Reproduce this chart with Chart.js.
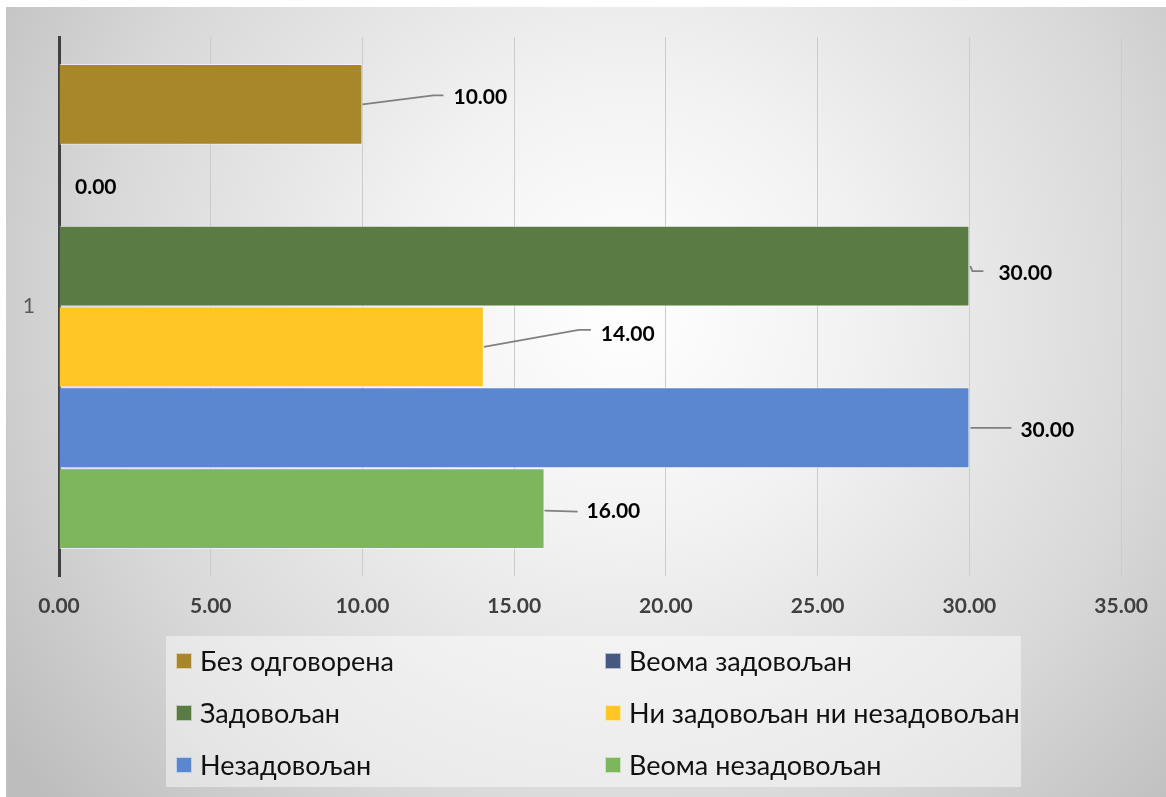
<!DOCTYPE html>
<html>

<head>
	<meta charset="utf-8">
	<title>Задовољство</title>
	<style>
		body {
			margin: 0;
			background: #fff;
		}

		.chart-wrap {
			position: absolute;
			left: 6px;
			top: 7px;
		}
	</style>
</head>

<body>
	<div class="chart-wrap">
		<canvas id="chart" width="1160" height="790"></canvas>
	</div>

	<script src="https://cdn.jsdelivr.net/npm/chart.js@4/dist/chart.umd.min.js"></script>
	<script>
		'use strict'

		// data
		const categories = ['1']
		const seriesNames = [
			'Без одговорена',
			'Веома задовољан',
			'Задовољан',
			'Ни задовољан ни незадовољан',
			'Незадовољан',
			'Веома незадовољан'
		]
		const seriesValues = [10, 0, 30, 14, 30, 16]
		const seriesColors = ['#a8862a', '#46587f', '#5a7c44', '#ffc626', '#5b87d0', '#7db65c']
		const xMin = 0
		const xMax = 35
		const xStep = 5

		// label leader lines: [line points relative to bar end], text dx, text dy
		const labelStyle = [
			{ line: [[0, 0], [71, -9], [81, -9]], dx: 91, dy: -7 },
			{ line: null, dx: 16, dy: 2 },
			{ line: [[1, 0], [3, 5], [14, 5]], dx: 29, dy: 7 },
			{ line: [[0, 0], [95, -17], [107, -17]], dx: 117, dy: -13 },
			{ line: [[1, 0], [42, 0]], dx: 51, dy: 2 },
			{ line: [[0, 2], [33, 3]], dx: 42, dy: 3 }
		]

		const FONT = "Lato, 'Noto Sans', sans-serif"

		const backgroundPlugin = {
			id: 'bgGradient',
			beforeDraw(chart) {
				const { ctx, width, height } = chart
				const g = ctx.createRadialGradient(620, 300, 0, 620, 300, 760)
				g.addColorStop(0, '#ffffff')
				g.addColorStop(0.3, '#f2f2f2')
				g.addColorStop(0.7, '#d8d8d8')
				g.addColorStop(1, '#bdbdbd')
				ctx.save()
				ctx.fillStyle = g
				ctx.fillRect(0, 0, width, height)
				ctx.restore()
			}
		}

		const valueLabelPlugin = {
			id: 'valueLabels',
			afterDatasetsDraw(chart) {
				const ctx = chart.ctx
				ctx.save()
				chart.data.datasets.forEach((ds, i) => {
					const bar = chart.getDatasetMeta(i).data[0]
					if (!bar) return
					const st = labelStyle[i]
					if (st.line) {
						ctx.beginPath()
						st.line.forEach(([dx, dy], k) => {
							if (k === 0) ctx.moveTo(bar.x + dx, bar.y + dy)
							else ctx.lineTo(bar.x + dx, bar.y + dy)
						})
						ctx.strokeStyle = '#808080'
						ctx.lineWidth = 1.8
						ctx.stroke()
					}
					ctx.fillStyle = '#000'
					ctx.font = 'bold 21px ' + FONT
					ctx.textAlign = 'left'
					ctx.textBaseline = 'middle'
					ctx.fillText(ds.data[0].toFixed(2), bar.x + st.dx, bar.y + st.dy)
				})
				ctx.restore()
			}
		}

		const gridLegendPlugin = {
			id: 'gridLegend',
			afterDraw(chart) {
				const ctx = chart.ctx
				const box = { x: 160, y: 629, w: 855, h: 151 }
				const cols = [170, 599]
				const rows = [654, 706, 758]
				ctx.save()
				ctx.fillStyle = 'rgba(255, 255, 255, 0.45)'
				ctx.fillRect(box.x, box.y, box.w, box.h)
				chart.data.datasets.forEach((ds, i) => {
					const x = cols[i % 2]
					const y = rows[Math.floor(i / 2)]
					ctx.fillStyle = ds.backgroundColor
					ctx.fillRect(x, y - 8, 16, 16)
					ctx.strokeStyle = 'rgba(255, 255, 255, 0.6)'
					ctx.lineWidth = 1
					ctx.strokeRect(x + 0.5, y - 7.5, 15, 15)
					ctx.fillStyle = '#111'
					ctx.font = '27px ' + FONT
					ctx.textAlign = 'left'
					ctx.textBaseline = 'middle'
					ctx.fillText(ds.label, x + 24, y + 1)
				})
				ctx.restore()
			}
		}

		const datasets = seriesNames.map((name, i) => ({
			label: name,
			data: [seriesValues[i]],
			backgroundColor: seriesColors[i],
			borderColor: 'rgba(255, 255, 255, 0.55)',
			borderWidth: 1,
			categoryPercentage: 0.9,
			barPercentage: 1.0
		}))

		new Chart(document.getElementById('chart'), {
			type: 'bar',
			data: { labels: categories, datasets },
			options: {
				indexAxis: 'y',
				responsive: false,
				devicePixelRatio: 1,
				animation: false,
				layout: { padding: { top: 30, right: 44, bottom: 171, left: 0 } },
				plugins: {
					legend: { display: false },
					tooltip: { enabled: false }
				},
				scales: {
					x: {
						min: xMin,
						max: xMax,
						ticks: {
							stepSize: xStep,
							padding: 18,
							color: '#404040',
							font: { family: FONT, size: 21, weight: 'bold' },
							callback: v => Number(v).toFixed(2)
						},
						grid: { color: '#cccccc', lineWidth: 1, drawTicks: false },
						border: { display: false },
						afterFit(scale) { scale.height = 50 }
					},
					y: {
						ticks: {
							padding: 24,
							color: '#595959',
							font: { family: FONT, size: 21 }
						},
						grid: { display: false, drawTicks: false },
						border: { display: true, color: '#404040', width: 3 },
						afterFit(scale) {
							scale.width = 53
							scale.paddingTop = 0
							scale.paddingBottom = 0
						}
					}
				}
			},
			plugins: [backgroundPlugin, valueLabelPlugin, gridLegendPlugin]
		})
	</script>
</body>

</html>
